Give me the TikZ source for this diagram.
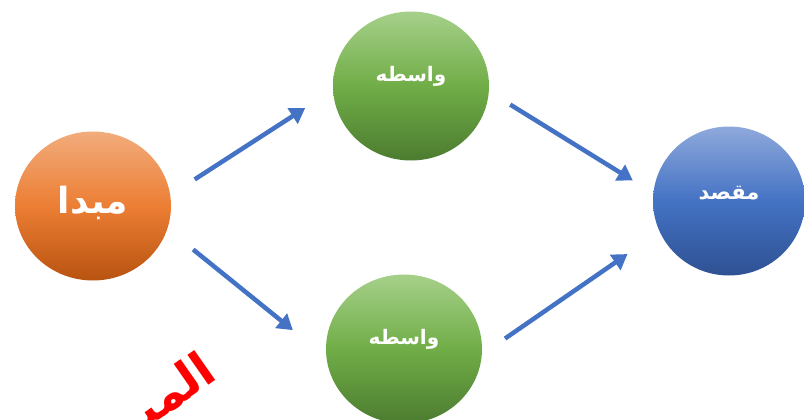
\documentclass[tikz,border=0pt]{standalone}
\usepackage{fontspec}
\usepackage{xcolor}
\usepackage{tikz}
\usetikzlibrary{positioning, arrows.meta, shapes.geometric}
\TeXXeTstate=1
\newfontfamily\arabicfont[Script=Arabic]{DejaVu Sans}
\definecolor{orangetop}{HTML}{F2AC7C}
\definecolor{orangemid}{HTML}{EC7E34}
\definecolor{orangebot}{HTML}{B85310}
\definecolor{greentop}{HTML}{A6D08A}
\definecolor{greenmid}{HTML}{70AD47}
\definecolor{greenbot}{HTML}{4C7C30}
\definecolor{bluetop}{HTML}{8EA9DB}
\definecolor{bluemid}{HTML}{4472C4}
\definecolor{bluebot}{HTML}{2E5192}
\definecolor{arrowblue}{HTML}{4472C4}

\begin{document}
\begin{tikzpicture}[x=1pt, y=-1pt,
    bubble/.style={ellipse, minimum width=156pt, minimum height=149pt, inner sep=0pt},
    caption/.style={text=white, font=\arabicfont\bfseries\fontsize{20}{22}\selectfont, yshift=10pt},
    link/.style={draw=arrowblue, line width=4.5pt, -{Triangle[length=15pt, width=18pt]}}]
  \useasboundingbox (0,0) rectangle (804,420);
  % circles
  \node[bubble, top color=orangetop, bottom color=orangebot, middle color=orangemid,
        label={[caption, yshift=-7pt, font=\arabicfont\bfseries\fontsize{36}{38}\selectfont]center:\beginR مبدا\endR}]
        (mabda) at (93,206) {};
  \node[bubble, top color=greentop, bottom color=greenbot, middle color=greenmid,
        label={[caption]center:\beginR واسطه\endR}] (wasta1) at (411,86) {};
  \node[bubble, top color=greentop, bottom color=greenbot, middle color=greenmid,
        label={[caption]center:\beginR واسطه\endR}] (wasta2) at (404,349) {};
  \node[bubble, minimum width=152pt, top color=bluetop, bottom color=bluebot, middle color=bluemid,
        label={[caption, yshift=-2pt, font=\arabicfont\bfseries\fontsize{21}{23}\selectfont]center:\beginR مقصد\endR}]
        (maqsad) at (729,201) {};
  % arrows
  \draw[link, shorten <=29pt, shorten >=33pt] (mabda.8) -- (wasta1.183);
  \draw[link, shorten <=25pt, shorten >=24pt] (wasta1.356) -- (maqsad.174);
  \draw[link, shorten <=33pt, shorten >=43pt] (mabda.343) -- (wasta2.186);
  \draw[link, shorten <=28pt, shorten >=39pt] (wasta2.356) -- (maqsad.204);
  % red mark
  \node[text=red, font=\arabicfont\bfseries\fontsize{48}{50}\selectfont, rotate=35,
        anchor=base east, inner sep=0pt] (mark) at (219,378) {\beginR الميـ\endR};
\end{tikzpicture}
\end{document}
